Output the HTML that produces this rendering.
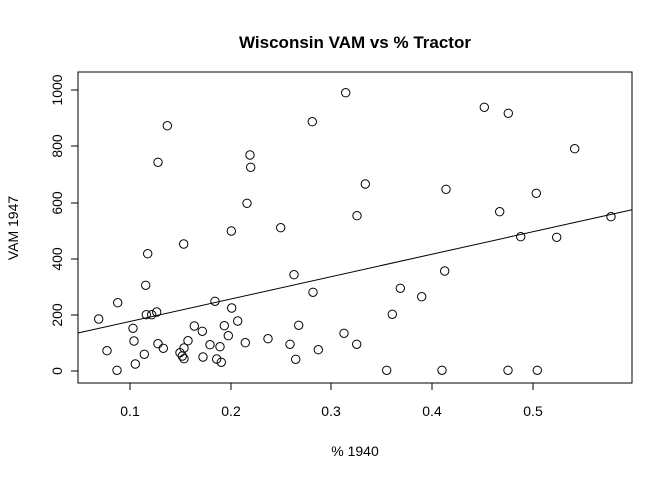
<!DOCTYPE html>
<html><head><meta charset="utf-8"><style>body{margin:0;background:#fff}svg{display:block}</style></head><body>
<svg width="672" height="480" xmlns="http://www.w3.org/2000/svg" font-family="Liberation Sans, Arial, sans-serif">
<rect width="672" height="480" fill="#fff"/>
<text x="355" y="48" font-size="17" font-weight="bold" text-anchor="middle">Wisconsin VAM vs % Tractor</text>
<rect x="78" y="72" width="554" height="311" fill="none" stroke="#000"/>
<g stroke="#000">
<line x1="130" y1="383" x2="533" y2="383"/>
<line x1="130" y1="383" x2="130" y2="390"/><line x1="231" y1="383" x2="231" y2="390"/><line x1="331" y1="383" x2="331" y2="390"/><line x1="432" y1="383" x2="432" y2="390"/><line x1="533" y1="383" x2="533" y2="390"/>
<line x1="78" y1="90" x2="78" y2="371"/>
<line x1="71" y1="371" x2="78" y2="371"/><line x1="71" y1="315" x2="78" y2="315"/><line x1="71" y1="259" x2="78" y2="259"/><line x1="71" y1="203" x2="78" y2="203"/><line x1="71" y1="146" x2="78" y2="146"/><line x1="71" y1="90" x2="78" y2="90"/>
</g>
<g font-size="14" text-anchor="middle">
<text x="130" y="416">0.1</text><text x="231" y="416">0.2</text><text x="331" y="416">0.3</text><text x="432" y="416">0.4</text><text x="533" y="416">0.5</text>
<text transform="translate(62,371) rotate(-90)">0</text>
<text transform="translate(62,315) rotate(-90)">200</text>
<text transform="translate(62,259) rotate(-90)">400</text>
<text transform="translate(62,203) rotate(-90)">600</text>
<text transform="translate(62,146) rotate(-90)">800</text>
<text transform="translate(62,90) rotate(-90)">1000</text>
<text x="355" y="456">% 1940</text>
<text transform="translate(18,228) rotate(-90)">VAM 1947</text>
</g>
<line x1="78" y1="333" x2="632" y2="209.7" stroke="#000"/>
<g fill="none" stroke="#000" stroke-width="1">
<circle cx="167.3" cy="125.7" r="4.2"/><circle cx="158" cy="162.3" r="4.2"/><circle cx="250" cy="155" r="4.2"/><circle cx="250.7" cy="167.3" r="4.2"/><circle cx="247" cy="203.3" r="4.2"/>
<circle cx="231.3" cy="231" r="4.2"/><circle cx="183.7" cy="244" r="4.2"/><circle cx="147.7" cy="253.7" r="4.2"/><circle cx="145.7" cy="285.3" r="4.2"/><circle cx="117.7" cy="302.7" r="4.2"/>
<circle cx="98.7" cy="319" r="4.2"/><circle cx="146.3" cy="314.7" r="4.2"/><circle cx="151.7" cy="314.7" r="4.2"/><circle cx="156.7" cy="312" r="4.2"/><circle cx="215" cy="301.3" r="4.2"/>
<circle cx="231.7" cy="308" r="4.2"/><circle cx="133" cy="328.3" r="4.2"/><circle cx="194.3" cy="326" r="4.2"/><circle cx="202.3" cy="331.3" r="4.2"/><circle cx="224.3" cy="325.7" r="4.2"/>
<circle cx="237.7" cy="321" r="4.2"/><circle cx="228.3" cy="335.7" r="4.2"/><circle cx="134" cy="341" r="4.2"/><circle cx="188" cy="340.7" r="4.2"/><circle cx="158" cy="343.7" r="4.2"/>
<circle cx="163.3" cy="348.3" r="4.2"/><circle cx="107" cy="350.7" r="4.2"/><circle cx="210" cy="344.7" r="4.2"/><circle cx="220" cy="346.7" r="4.2"/><circle cx="245.3" cy="342.7" r="4.2"/>
<circle cx="268" cy="338.7" r="4.2"/><circle cx="144.3" cy="354.3" r="4.2"/><circle cx="180" cy="352.7" r="4.2"/><circle cx="184" cy="348" r="4.2"/><circle cx="182.3" cy="356" r="4.2"/>
<circle cx="184" cy="358.7" r="4.2"/><circle cx="203" cy="357" r="4.2"/><circle cx="216.7" cy="359" r="4.2"/><circle cx="221.3" cy="362.3" r="4.2"/><circle cx="135.3" cy="364" r="4.2"/>
<circle cx="117" cy="370.3" r="4.2"/>
<circle cx="345.7" cy="92.7" r="4.2"/><circle cx="312.3" cy="121.7" r="4.2"/><circle cx="365.3" cy="184" r="4.2"/><circle cx="446" cy="189.3" r="4.2"/><circle cx="357" cy="215.7" r="4.2"/>
<circle cx="280.7" cy="227.7" r="4.2"/><circle cx="294" cy="274.7" r="4.2"/><circle cx="313" cy="292.3" r="4.2"/><circle cx="444.7" cy="271" r="4.2"/><circle cx="400.3" cy="288.3" r="4.2"/>
<circle cx="421.7" cy="296.7" r="4.2"/><circle cx="392.3" cy="314.3" r="4.2"/><circle cx="298.7" cy="325.3" r="4.2"/><circle cx="344" cy="333.3" r="4.2"/><circle cx="290" cy="344.3" r="4.2"/>
<circle cx="356.7" cy="344.3" r="4.2"/><circle cx="318.3" cy="349.7" r="4.2"/><circle cx="295.7" cy="359.3" r="4.2"/><circle cx="386.7" cy="370.3" r="4.2"/><circle cx="442" cy="370.3" r="4.2"/>
<circle cx="484.3" cy="107.3" r="4.2"/><circle cx="508.3" cy="113.3" r="4.2"/><circle cx="574.7" cy="148.7" r="4.2"/><circle cx="536.3" cy="193.3" r="4.2"/><circle cx="499.7" cy="211.7" r="4.2"/>
<circle cx="520.7" cy="236.7" r="4.2"/><circle cx="556.7" cy="237.3" r="4.2"/><circle cx="611" cy="216.7" r="4.2"/><circle cx="508" cy="370.3" r="4.2"/><circle cx="537.3" cy="370.3" r="4.2"/>
</g>
</svg>
</body></html>
